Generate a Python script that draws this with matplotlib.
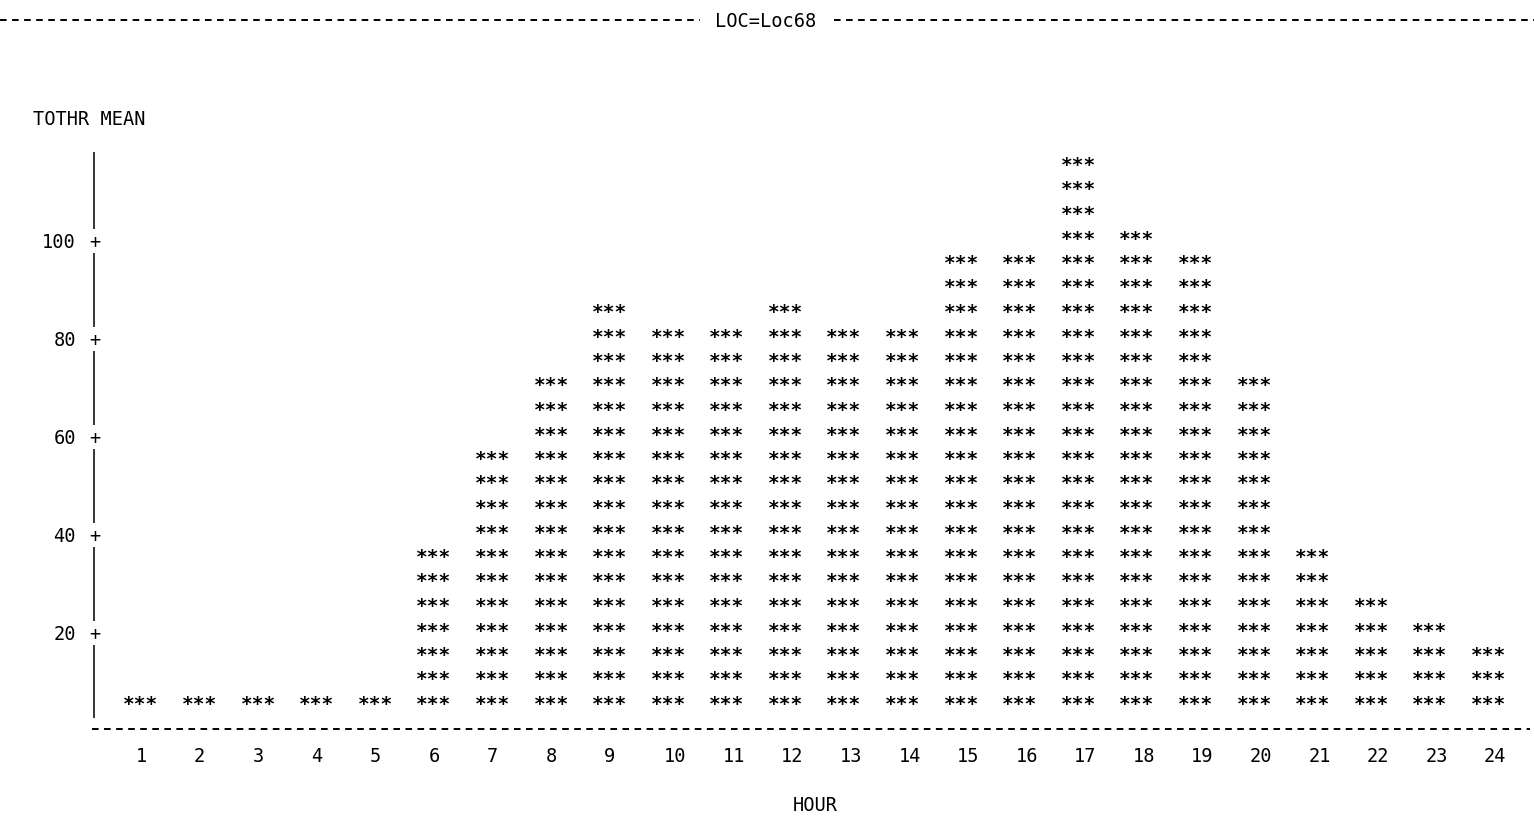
import matplotlib
matplotlib.use("Agg")
import matplotlib.pyplot as plt
import matplotlib.transforms as mtransforms

# ---- data ----
hours = list(range(1, 25))
tothr_mean = [5, 5, 5, 5, 5, 35, 55, 70, 85, 80, 80, 85,
              80, 80, 95, 95, 115, 100, 95, 70, 35, 25, 20, 15]
y_ticks = [20, 40, 60, 80, 100]
bar_unit = 5
title_text = "LOC=Loc68"
y_label = "TOTHR MEAN"
x_label = "HOUR"

W, H = 1534, 817
FONT = "DejaVu Sans Mono"
FS = 13.4
plt.rcParams["font.family"] = [FONT]

fig = plt.figure(figsize=(W / 100, H / 100), dpi=100)
px_per_unit = 4.9
x0_px, x_step = 141, 58.58
ax = fig.add_axes([94 / W, (H - 731) / H, (W - 94) / W, (731 - 152) / H])
ax.set_xlim(1 - (x0_px - 94) / x_step, 1 + (W - x0_px) / x_step)
ax.set_ylim(0, (731 - 152) / px_per_unit)
ax.axis("off")


def off(dx=0, dy=0, base=None):
    return mtransforms.offset_copy(base if base is not None else ax.transData,
                                   fig=fig, x=dx, y=dy, units="dots")


# bars of asterisks
star_tr = off(0, -3.5)
for h, v in zip(hours, tothr_mean):
    n = int(round(v / bar_unit))
    for k in range(1, n + 1):
        ax.text(h, k * bar_unit, "***", ha="center", va="baseline",
                fontsize=14, fontweight="bold", transform=star_tr,
                clip_on=False)

# y axis: solid line broken at tick marks
ylo = 13 / px_per_unit
yhi = ax.get_ylim()[1]
gap = 12 / px_per_unit
bounds = [ylo]
for t in y_ticks:
    bounds += [t - gap, t + gap]
bounds.append(yhi)
xl = ax.get_xlim()[0]
for a, b in zip(bounds[0::2], bounds[1::2]):
    ax.plot([xl, xl], [a, b], color="black", lw=1.1, clip_on=False,
            solid_capstyle="butt")

ytr = mtransforms.blended_transform_factory(ax.transAxes, ax.transData)
for t in y_ticks:
    ax.text(0, t, "+", ha="center", va="baseline", fontsize=FS,
            transform=off(1, -7, ytr))
    ax.text(0, t, str(t), ha="right", va="baseline", fontsize=FS,
            transform=off(-18, -7, ytr))

# x axis dashed line
DASH = (3.4, 2.8)
ax.axhline(0.4, xmin=-2 / 1440, xmax=1436 / 1440, color="black", lw=1.4,
           dashes=DASH, clip_on=False)
xtr = mtransforms.blended_transform_factory(ax.transData, ax.transAxes)
for h in hours:
    s = str(h)
    ax.text(h + 0.12 * (len(s) - 1), 0, s, ha="center", va="baseline",
            fontsize=FS, transform=off(0, -31, xtr))

# titles
fig.text(33 / W, 1 - 125 / H, y_label, ha="left", va="baseline", fontsize=FS)
fig.text(815 / W, 1 - 811 / H, x_label, ha="center", va="baseline", fontsize=FS)
fig.text(766 / W, 1 - 27 / H, title_text, ha="center", va="baseline", fontsize=FS)
for xa, xb in [(0, 700), (834, W)]:
    fig.add_artist(plt.Line2D([xa / W, xb / W], [1 - 20 / H, 1 - 20 / H],
                              color="black", lw=1.4, dashes=DASH))

fig.savefig("out.png", dpi=100, facecolor="white")
